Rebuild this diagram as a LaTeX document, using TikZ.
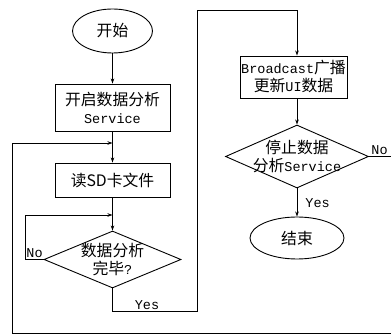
\documentclass[tikz,border=0pt]{standalone}
\usepackage{fontspec}
\setmainfont{Liberation Mono}
\newfontfamily\cjk{Noto Sans CJK SC}
\newcommand\zh[1]{{\cjk\fontsize{15.8pt}{18pt}\selectfont #1}}
\usetikzlibrary{shapes.geometric,arrows.meta}
\begin{document}
\begin{tikzpicture}[x=1pt,y=-1pt, line width=0.9pt,
  >={Stealth[length=5pt,width=3.5pt]},
  every node/.style={font=\fontsize{13.5pt}{18pt}\selectfont, align=center},
  term/.style={ellipse, draw, inner sep=0pt},
  proc/.style={rectangle, draw, inner sep=0pt},
  decide/.style={diamond, draw, inner sep=0pt},
  lbl/.style={inner sep=1pt}]
\useasboundingbox (0,0) rectangle (391,336);
% left column
\node[term, minimum width=80pt, minimum height=44pt] (start) at (112.5,31) {\zh{开始}};
\node[proc, minimum width=115pt, minimum height=47pt] (b1) at (112.5,107.5) {\zh{开启数据分析}\\Service};
\node[proc, minimum width=115pt, minimum height=34pt] (b2) at (112.5,180) {\zh{读SD卡文件}};
\node[decide, minimum width=137pt, minimum height=57pt] (d1) at (112.5,259.5) {};
\node (t1) at (d1.center) {\zh{数据分析}\\\zh{完毕}?};
% right column
\node[proc, minimum width=107pt, minimum height=42pt] (b3) at (293.5,77) {Broadcast\zh{广播}\\\zh{更新}UI\zh{数据}};
\node[decide, minimum width=143pt, minimum height=63pt] (d2) at (297,156.5) {};
\node (t2) at (d2.center) {\zh{停止数据}\\\zh{分析}Service};
\node[term, minimum width=94pt, minimum height=42pt] (end) at (297,238) {\zh{结束}};
% merge points
\coordinate (m1) at (b1.south |- 0,143);
\coordinate (m2) at (b2.south |- 0,215);
% connectors
\draw[->] (start) -- (b1);
\draw[->] (b1) -- (b2);
\draw[->] (b2) -- (d1);
\draw[->] (d1.west) -- (25,259.5) -- (25,215) -- (m2);
\node[lbl, anchor=south west] (no1) at (25,259.5) {No};
\draw[->] (d1.south) -- (d1.south |- 0,311) -- (197,311) -- (197,10) -- (297,10) -- (b3.north -| d2.north);
\node[lbl, anchor=south] (yes1) at (147,311) {Yes};
\draw[->] (b3.south -| d2.north) -- (d2.north);
\draw[->] (d2.south) -- (end.north);
\node[lbl, anchor=west] (yes2) at (304,203) {Yes};
\draw[->] (d2.east) -- (400,156.5) -- (400,333) -- (12,333) -- (12,143) -- (m1);
\node[lbl, anchor=south west] (no2) at (370,156.5) {No};
\end{tikzpicture}
\end{document}
